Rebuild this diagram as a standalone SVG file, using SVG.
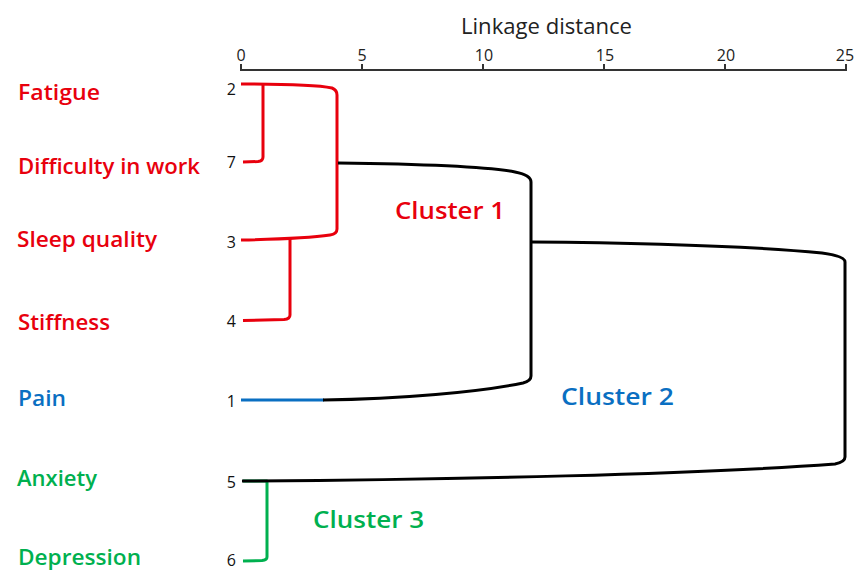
<svg xmlns="http://www.w3.org/2000/svg" width="857" height="570" viewBox="0 0 857 570">
<style>
.lbl{font-family:"Open Sans","Noto Sans",sans-serif;font-size:21px;font-weight:600}
.num{font-family:"Open Sans","Noto Sans",sans-serif;font-size:16px;fill:#111;text-anchor:end}
.tick{font-family:"Open Sans","Noto Sans",sans-serif;font-size:16px;fill:#222;text-anchor:middle}
.title{font-family:"Open Sans","Noto Sans",sans-serif;font-size:21px;fill:#222}
.clu{font-family:"Open Sans","Noto Sans",sans-serif;font-size:23px;font-weight:600}
.red{fill:#e8000d}.blue{fill:#0a6fc2}.green{fill:#00b04f}
.ln{fill:none;stroke-width:3;stroke-linecap:butt;stroke-linejoin:round}
.r{stroke:#e8000d}.b{stroke:#0a6fc2}.g{stroke:#00b04f}.k{stroke:#000}
.ax{stroke:#333;stroke-width:2;fill:none}
</style>
<rect width="857" height="570" fill="#fff"/>
<g id="axis">
<text class="title" x="461" y="34" textLength="171" lengthAdjust="spacingAndGlyphs">Linkage distance</text>
<path class="ax" d="M241,70 H846 M241,64 V71 M362,64 V71 M483,64 V71 M604,64 V71 M725,64 V71 M846,64 V71"/>
<text class="tick" x="241" y="61">0</text>
<text class="tick" x="362" y="61">5</text>
<text class="tick" x="484" y="61">10</text>
<text class="tick" x="605" y="61">15</text>
<text class="tick" x="726" y="61">20</text>
<text class="tick" x="845" y="61">25</text>
</g>
<g id="node-2"><text class="lbl red" x="18" y="100" textLength="82" lengthAdjust="spacingAndGlyphs">Fatigue</text><text class="num" x="236" y="95">2</text></g>
<g id="node-7"><text class="lbl red" x="18" y="174" textLength="182" lengthAdjust="spacingAndGlyphs">Difficulty in work</text><text class="num" x="236" y="168">7</text></g>
<g id="node-3"><text class="lbl red" x="17" y="247" textLength="140" lengthAdjust="spacingAndGlyphs">Sleep quality</text><text class="num" x="236" y="248">3</text></g>
<g id="node-4"><text class="lbl red" x="18" y="330" textLength="92" lengthAdjust="spacingAndGlyphs">Stiffness</text><text class="num" x="236" y="327">4</text></g>
<g id="node-1"><text class="lbl blue" x="18" y="406" textLength="48" lengthAdjust="spacingAndGlyphs">Pain</text><text class="num" x="236" y="407">1</text></g>
<g id="node-5"><text class="lbl green" x="17" y="486" textLength="80" lengthAdjust="spacingAndGlyphs">Anxiety</text><text class="num" x="236" y="488">5</text></g>
<g id="node-6"><text class="lbl green" x="18" y="565" textLength="123" lengthAdjust="spacingAndGlyphs">Depression</text><text class="num" x="236" y="566">6</text></g>
<g id="connectors">
<path class="ln g" d="M243,481 H267 V557 Q267,560 262,560.5 L243,561"/>
<path class="ln r" d="M263,84 V157 Q263,161 258,161.5 L243,162"/>
<path class="ln r" d="M241,84 C290,84 322,86 332,88 Q337,90 337,95 V229 Q337,234 330,235 C310,238 290,239 241,240"/>
<path class="ln r" d="M290,239 V315 Q290,319 284,319.5 L243,320.5"/>
<path class="ln b" d="M241,400 H324"/>
<path class="ln k" d="M338,163 C420,164 490,167 515,172 Q531,175 531,182 V376 Q531,381 523,383 C480,392 400,399 323,400"/>
<path class="ln k" d="M531,242 C650,243 760,247 822,253 Q845,256 845,262 V457 Q845,462 835,464 C700,474 450,480 242,481"/>
</g>
<g id="cluster-labels">
<text class="clu red" x="395" y="219" textLength="110" lengthAdjust="spacingAndGlyphs">Cluster 1</text>
<text class="clu blue" x="561" y="405" textLength="113" lengthAdjust="spacingAndGlyphs">Cluster 2</text>
<text class="clu green" x="313" y="528" textLength="111" lengthAdjust="spacingAndGlyphs">Cluster 3</text>
</g>
</svg>
